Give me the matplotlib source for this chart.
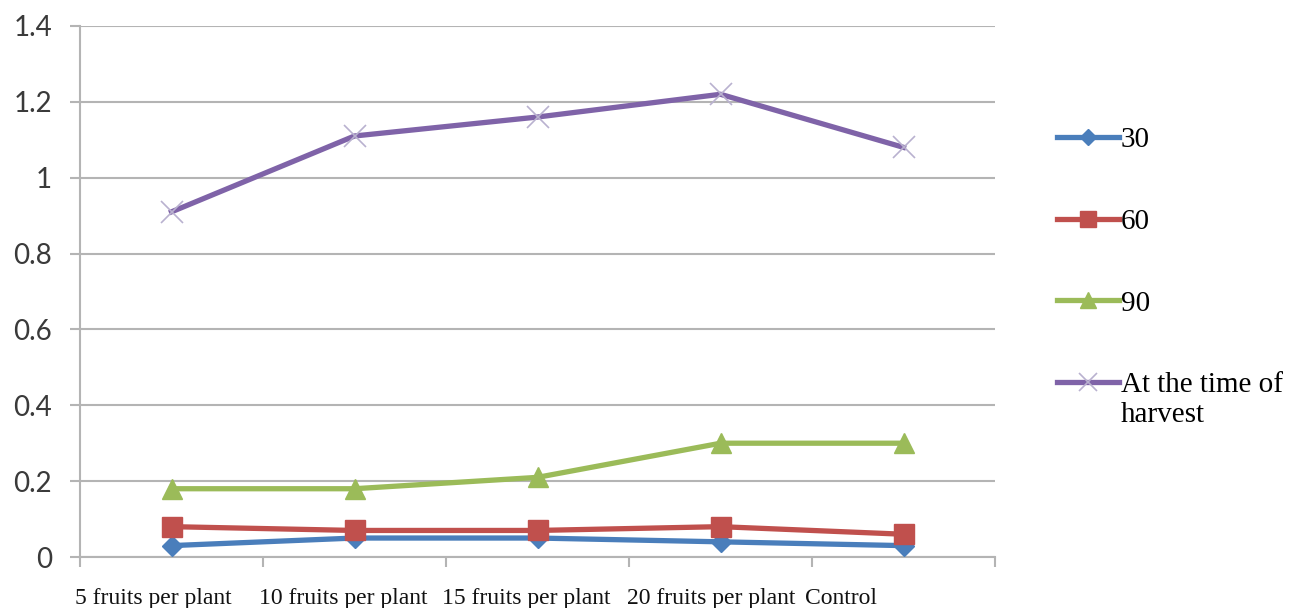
import matplotlib
matplotlib.use("Agg")
import matplotlib.pyplot as plt
import matplotlib.transforms as mtransforms

categories = ["5 fruits per plant", "10 fruits per plant", "15 fruits per plant",
              "20 fruits per plant", "Control"]
series_names = ["30", "60", "90", "At the time of\nharvest"]
day30 = [0.03, 0.05, 0.05, 0.04, 0.03]
day60 = [0.08, 0.07, 0.07, 0.08, 0.06]
day90 = [0.18, 0.18, 0.21, 0.30, 0.30]
harvest = [0.91, 1.11, 1.16, 1.22, 1.08]
y_ticks = [0, 0.2, 0.4, 0.6, 0.8, 1.0, 1.2, 1.4]
y_tick_labels = ["0", "0.2", "0.4", "0.6", "0.8", "1", "1.2", "1.4"]

fig = plt.figure(figsize=(12.94, 6.08), dpi=100)
ax = fig.add_axes([80 / 1294, 1 - 557 / 608, 915 / 1294, 531 / 608])

x = list(range(len(categories)))
grid_c = "#b4b4b4"

ax.plot(x, day30, color="#4a7ebb", lw=3.8, marker="D", ms=10,
        mfc="#4a7ebb", mec="#4a7ebb", label=series_names[0], zorder=3)
ax.plot(x, day60, color="#c0504d", lw=3.8, marker="s", ms=14,
        mfc="#c0504d", mec="#c0504d", label=series_names[1], zorder=3)
ax.plot(x, day90, color="#9bbb59", lw=3.8, marker="^", ms=15,
        mfc="#9bbb59", mec="#9bbb59", label=series_names[2], zorder=3)
ax.plot(x, harvest, color="#7f63a8", lw=3.8, marker="x", ms=16, mew=1.2,
        mec="#b9b1cf", label=series_names[3], zorder=3)

ax.set_xlim(-0.5, len(categories) - 0.5)
ax.set_ylim(0, 1.4)

ax.set_yticks(y_ticks)
ax.set_yticklabels(y_tick_labels, fontfamily="Lato", fontsize=20, color="#3a3a3a")
ax.yaxis.grid(True, color=grid_c, lw=1.5)
ax.set_axisbelow(True)
ax.tick_params(axis="y", length=7.2, width=1.5, color=grid_c, pad=13)

# category boundaries carry the x tick marks; labels are drawn separately
ax.set_xticks([i - 0.5 for i in range(len(categories) + 1)])
ax.set_xticklabels([])
ax.tick_params(axis="x", length=7.2, width=1.5, color=grid_c)

for side in ("top", "right"):
    ax.spines[side].set_visible(False)
for side in ("left", "bottom"):
    ax.spines[side].set_color(grid_c)
    ax.spines[side].set_linewidth(1.5)

trans = mtransforms.blended_transform_factory(ax.transData, ax.transAxes)
offsets = [-0.03, -0.02, -0.02, -0.01, -0.04]
for i, (lab, off) in enumerate(zip(categories, offsets)):
    ax.text(i - 0.5 + off, -0.078, lab, transform=trans, ha="left", va="center",
            fontfamily="Liberation Serif", fontsize=17, color="#111111")

leg = ax.legend(loc="upper left", bbox_to_anchor=(1042 / 1294, 1 - 112 / 608),
                bbox_transform=fig.transFigure, frameon=False,
                prop={"family": "Liberation Serif", "size": 21},
                handlelength=2.15, handletextpad=0.05, labelspacing=1.9,
                borderpad=0, markerscale=0.8)
# keep the last handle level with the first line of its two-line label
leg._legend_handle_box.get_children()[0].get_children()[3].align = "top"

fig.savefig("out.png", dpi=100, facecolor="white")
